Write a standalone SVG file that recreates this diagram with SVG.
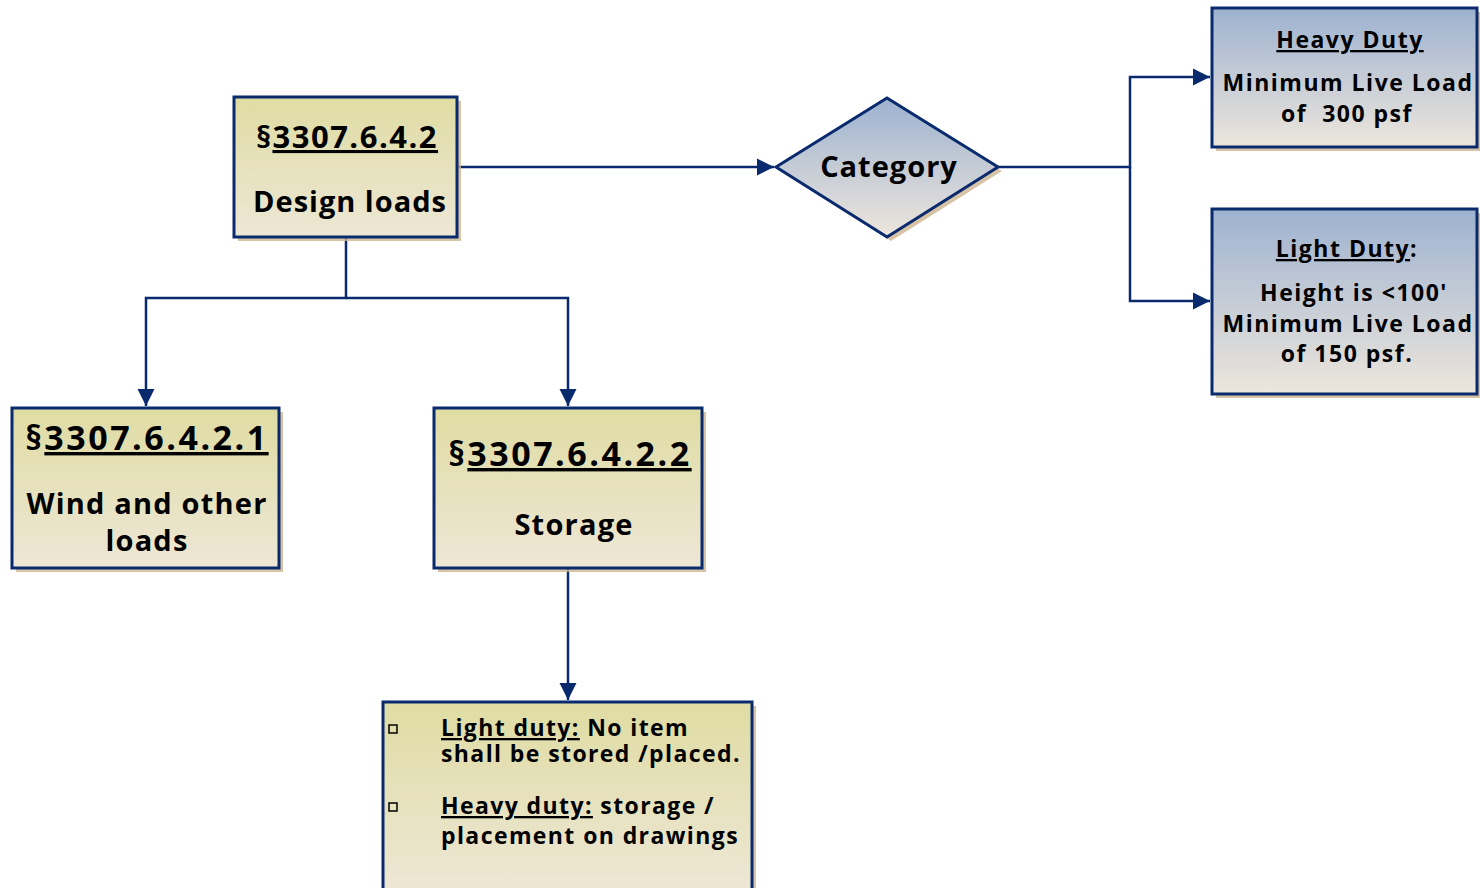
<svg xmlns="http://www.w3.org/2000/svg" width="1480" height="888" viewBox="0 0 1480 888">
<defs>
<linearGradient id="gy" x1="0" y1="0" x2="0" y2="1"><stop offset="0" stop-color="#dfdca3"/><stop offset="1" stop-color="#ede7d6"/></linearGradient>
<linearGradient id="gb" x1="0" y1="0" x2="0" y2="1"><stop offset="0" stop-color="#9db2d0"/><stop offset="1" stop-color="#ede6dc"/></linearGradient>
<marker id="ah2" viewBox="0 0 10 10" refX="10" refY="5" markerWidth="7" markerHeight="7" orient="auto"><path d="M0,0 L10,5 L0,10 z" fill="#0a2a6e"/></marker>
</defs>
<style>
.box{stroke:#0a2a6e;stroke-width:3}
.sh{fill:#cdb48e;opacity:0.8}
.t{font-family:"Open Sans","Liberation Sans",sans-serif;font-weight:bold;fill:#000;text-anchor:middle}
.l{text-anchor:start}
.u{text-decoration:underline}
.c{fill:none;stroke:#0a2a6e;stroke-width:2.5}
</style>
<g id="connectors">
<path class="c" d="M457,167 H774" marker-end="url(#ah2)"/>
<path class="c" d="M998,167 H1130 V77 H1210" marker-end="url(#ah2)"/>
<path class="c" d="M1130,167 V301 H1210" marker-end="url(#ah2)"/>
<path class="c" d="M346,237 V298 H146 V406" marker-end="url(#ah2)"/>
<path class="c" d="M346,298 H568 V406" marker-end="url(#ah2)"/>
<path class="c" d="M568,568 V700" marker-end="url(#ah2)"/>
</g>
<g id="design">
<rect class="sh" x="238" y="101" width="223" height="140"/>
<rect class="box" x="234" y="97" width="223" height="140" fill="url(#gy)"/>
<text class="t" x="347" y="148" font-size="31" letter-spacing="1.5">§<tspan class="u">3307.6.4.2</tspan></text>
<text class="t" x="350" y="212" font-size="29" letter-spacing="1">Design loads</text>
</g>
<g id="category">
<path class="sh" d="M780,171 L891,102 L1002,171 L891,241 z"/>
<path class="box" d="M776,167 L887,98 L998,167 L887,237 z" fill="url(#gb)"/>
<text class="t" x="889" y="177" font-size="29" letter-spacing="1">Category</text>
</g>
<g id="heavy">
<rect class="sh" x="1216" y="12" width="265" height="139"/>
<rect class="box" x="1212" y="8" width="265" height="139" fill="url(#gb)"/>
<text class="t u" x="1350" y="48" font-size="23" letter-spacing="1.5">Heavy Duty</text>
<text class="t" x="1348" y="91" font-size="23" letter-spacing="1.5">Minimum Live Load</text>
<text class="t" x="1347" y="122" font-size="23" letter-spacing="1.5" xml:space="preserve">of  300 psf</text>
</g>
<g id="light">
<rect class="sh" x="1216" y="213" width="265" height="185"/>
<rect class="box" x="1212" y="209" width="265" height="185" fill="url(#gb)"/>
<text class="t" x="1347" y="257" font-size="23" letter-spacing="1.5"><tspan class="u">Light Duty</tspan>:</text>
<text class="t" x="1354" y="301" font-size="23" letter-spacing="1.5">Height is &lt;100'</text>
<text class="t" x="1348" y="332" font-size="23" letter-spacing="1.5">Minimum Live Load</text>
<text class="t" x="1347" y="362" font-size="23" letter-spacing="1.5">of 150 psf.</text>
</g>
<g id="wind">
<rect class="sh" x="16" y="412" width="267" height="160"/>
<rect class="box" x="12" y="408" width="267" height="160" fill="url(#gy)"/>
<text class="t" x="147" y="450" font-size="34" letter-spacing="2.5">§<tspan class="u">3307.6.4.2.1</tspan></text>
<text class="t" x="147" y="514" font-size="29" letter-spacing="1.2">Wind and other</text>
<text class="t" x="147" y="551" font-size="29" letter-spacing="1.2">loads</text>
</g>
<g id="storage">
<rect class="sh" x="438" y="412" width="268" height="160"/>
<rect class="box" x="434" y="408" width="268" height="160" fill="url(#gy)"/>
<text class="t" x="570" y="466" font-size="34" letter-spacing="2.5">§<tspan class="u">3307.6.4.2.2</tspan></text>
<text class="t" x="574" y="535" font-size="29" letter-spacing="1.2">Storage</text>
</g>
<g id="details">
<rect class="sh" x="387" y="706" width="369" height="190"/>
<rect class="box" x="383" y="702" width="369" height="192" fill="url(#gy)"/>
<rect x="389" y="725" width="8" height="8" fill="none" stroke="#000" stroke-width="1.5"/>
<rect x="389" y="803" width="8" height="8" fill="none" stroke="#000" stroke-width="1.5"/>
<text class="t l" x="441" y="736" font-size="23" letter-spacing="1.4"><tspan class="u">Light duty:</tspan> No item</text>
<text class="t l" x="441" y="762" font-size="23" letter-spacing="1.4">shall be stored /placed.</text>
<text class="t l" x="441" y="814" font-size="23" letter-spacing="1.4"><tspan class="u">Heavy duty:</tspan> storage /</text>
<text class="t l" x="441" y="844" font-size="23" letter-spacing="1.4">placement on drawings</text>
</g>
</svg>
